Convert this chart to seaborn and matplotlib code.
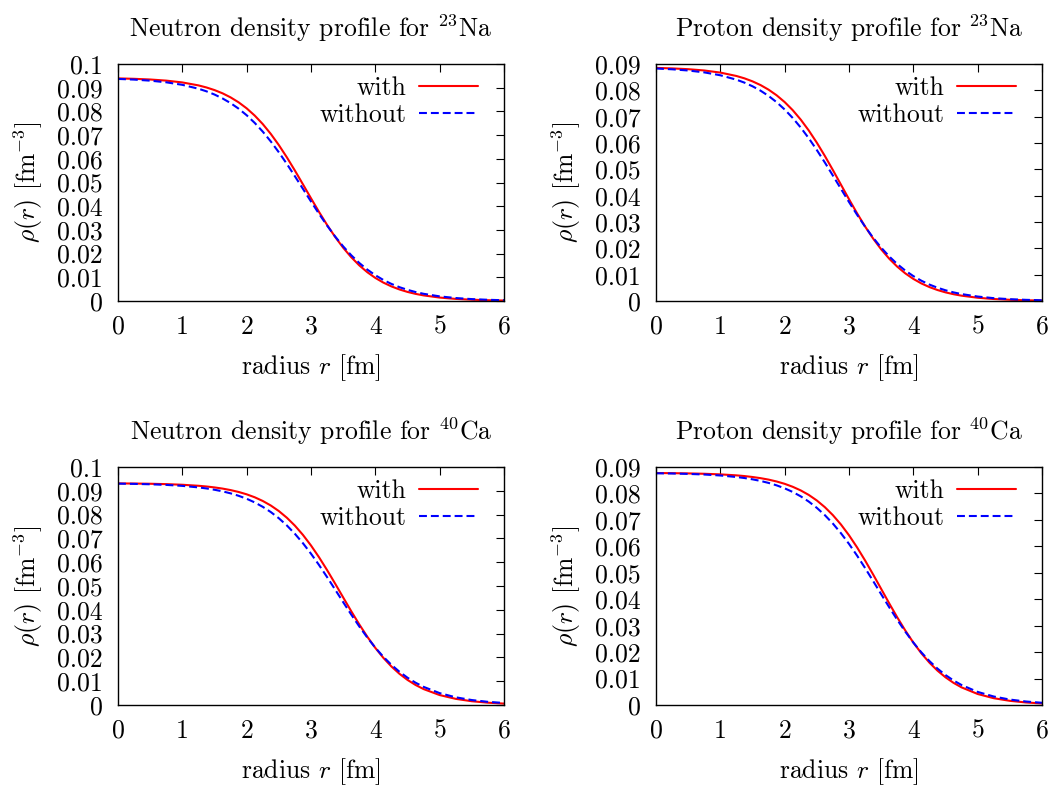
import matplotlib
matplotlib.use("Agg")
import matplotlib.pyplot as plt
import seaborn as sns
import pandas as pd

# ---------------- data ----------------
radius = [0.0, 0.25, 0.5, 0.75, 1.0, 1.25, 1.375, 1.5, 1.625, 1.75, 1.875, 2.0,
          2.125, 2.25, 2.375, 2.5, 2.625, 2.75, 2.875, 3.0, 3.125, 3.25, 3.375, 3.5,
          3.625, 3.75, 3.875, 4.0, 4.125, 4.25, 4.375, 4.5, 4.625, 4.75,
          5.0, 5.25, 5.5, 5.75, 6.0]

na_neutron_with = [0.09393, 0.09375, 0.09346, 0.09299, 0.09222, 0.09098, 0.09010, 0.08900,
                   0.08763, 0.08592, 0.08383, 0.08129, 0.07824, 0.07466, 0.07050, 0.06580,
                   0.06061, 0.05503, 0.04922, 0.04334, 0.03758, 0.03210, 0.02704, 0.02248,
                   0.01849, 0.01505, 0.01215, 0.00974, 0.00776, 0.00616, 0.00487, 0.00383,
                   0.00301, 0.00236, 0.00145, 0.00088, 0.00054, 0.00033, 0.00020]
na_neutron_without = [0.09370, 0.09342, 0.09297, 0.09228, 0.09121, 0.08957, 0.08847, 0.08712,
                      0.08547, 0.08350, 0.08115, 0.07838, 0.07515, 0.07147, 0.06732, 0.06275,
                      0.05783, 0.05263, 0.04731, 0.04198, 0.03678, 0.03183, 0.02723, 0.02305,
                      0.01932, 0.01606, 0.01326, 0.01088, 0.00887, 0.00721, 0.00583, 0.00471,
                      0.00379, 0.00304, 0.00195, 0.00125, 0.00080, 0.00051, 0.00032]

na_proton_with = [0.08852, 0.08833, 0.08803, 0.08754, 0.08674, 0.08545, 0.08455, 0.08341,
                  0.08200, 0.08025, 0.07812, 0.07554, 0.07247, 0.06887, 0.06474, 0.06012,
                  0.05507, 0.04971, 0.04418, 0.03866, 0.03332, 0.02830, 0.02371, 0.01962,
                  0.01607, 0.01304, 0.01049, 0.00839, 0.00667, 0.00529, 0.00417, 0.00328,
                  0.00258, 0.00202, 0.00124, 0.00075, 0.00046, 0.00028, 0.00017]
na_proton_without = [0.08829, 0.08799, 0.08753, 0.08682, 0.08572, 0.08405, 0.08292, 0.08154,
                     0.07987, 0.07787, 0.07550, 0.07272, 0.06951, 0.06586, 0.06179, 0.05733,
                     0.05258, 0.04762, 0.04259, 0.03759, 0.03277, 0.02823, 0.02404, 0.02027,
                     0.01693, 0.01403, 0.01155, 0.00946, 0.00770, 0.00624, 0.00505, 0.00407,
                     0.00327, 0.00263, 0.00169, 0.00108, 0.00069, 0.00044, 0.00028]

ca_neutron_with = [0.09311, 0.09305, 0.09296, 0.09280, 0.09254, 0.09211, 0.09181, 0.09142,
                   0.09093, 0.09030, 0.08951, 0.08852, 0.08728, 0.08573, 0.08382, 0.08149,
                   0.07868, 0.07535, 0.07146, 0.06702, 0.06207, 0.05669, 0.05101, 0.04520,
                   0.03943, 0.03388, 0.02870, 0.02398, 0.01980, 0.01618, 0.01311, 0.01054,
                   0.00842, 0.00669, 0.00417, 0.00258, 0.00158, 0.00097, 0.00059]
ca_neutron_without = [0.09301, 0.09291, 0.09274, 0.09248, 0.09207, 0.09143, 0.09099, 0.09044,
                      0.08977, 0.08893, 0.08790, 0.08665, 0.08512, 0.08327, 0.08107, 0.07847,
                      0.07543, 0.07192, 0.06797, 0.06357, 0.05881, 0.05374, 0.04851, 0.04322,
                      0.03802, 0.03303, 0.02835, 0.02408, 0.02025, 0.01688, 0.01396, 0.01147,
                      0.00937, 0.00762, 0.00499, 0.00323, 0.00208, 0.00133, 0.00085]

ca_proton_with = [0.08772, 0.08767, 0.08758, 0.08744, 0.08721, 0.08684, 0.08657, 0.08622,
                  0.08578, 0.08523, 0.08452, 0.08364, 0.08252, 0.08114, 0.07943, 0.07734,
                  0.07480, 0.07178, 0.06825, 0.06419, 0.05963, 0.05465, 0.04936, 0.04390,
                  0.03844, 0.03315, 0.02817, 0.02361, 0.01955, 0.01602, 0.01300, 0.01047,
                  0.00837, 0.00666, 0.00416, 0.00257, 0.00158, 0.00096, 0.00059]
ca_proton_without = [0.08763, 0.08754, 0.08739, 0.08716, 0.08679, 0.08622, 0.08583, 0.08534,
                     0.08473, 0.08398, 0.08306, 0.08193, 0.08056, 0.07890, 0.07691, 0.07455,
                     0.07178, 0.06859, 0.06496, 0.06092, 0.05651, 0.05180, 0.04689, 0.04190,
                     0.03697, 0.03222, 0.02774, 0.02361, 0.01990, 0.01662, 0.01377, 0.01133,
                     0.00927, 0.00755, 0.00495, 0.00321, 0.00206, 0.00132, 0.00084]

titles = [r"Neutron density profile for $^{23}$Na",
          r"Proton density profile for $^{23}$Na",
          r"Neutron density profile for $^{40}$Ca",
          r"Proton density profile for $^{40}$Ca"]

x_ticks = [0, 1, 2, 3, 4, 5, 6]
x_tick_labels = ["0", "1", "2", "3", "4", "5", "6"]
y_ticks_01 = [0, 0.01, 0.02, 0.03, 0.04, 0.05, 0.06, 0.07, 0.08, 0.09, 0.1]
y_labels_01 = ["0", "0.01", "0.02", "0.03", "0.04", "0.05", "0.06", "0.07", "0.08", "0.09", "0.1"]
y_ticks_009 = [0, 0.01, 0.02, 0.03, 0.04, 0.05, 0.06, 0.07, 0.08, 0.09]
y_labels_009 = ["0", "0.01", "0.02", "0.03", "0.04", "0.05", "0.06", "0.07", "0.08", "0.09"]

series_labels = ["with", "without"]

# ---------------- style ----------------
sns.set_theme(style="white")
plt.rcParams["font.family"] = ["cmr10", "DejaVu Serif"]
plt.rcParams["mathtext.fontset"] = "cm"
plt.rcParams["axes.unicode_minus"] = False
plt.rcParams["axes.edgecolor"] = "black"
plt.rcParams["axes.linewidth"] = 1.0
plt.rcParams["text.color"] = "black"
plt.rcParams["axes.labelcolor"] = "black"

FS = 18.5

fig = plt.figure(figsize=(10.51, 7.87), dpi=100)
W, H = 1051.0, 787.0

# axes boxes in pixels (left, top, right, bottom)
boxes = [(118, 64, 504, 301), (656, 64, 1042, 301),
         (118, 467, 504, 705), (656, 467, 1042, 705)]

panels = [
    (na_neutron_with, na_neutron_without, 0.1, y_ticks_01, y_labels_01),
    (na_proton_with, na_proton_without, 0.09, y_ticks_009, y_labels_009),
    (ca_neutron_with, ca_neutron_without, 0.1, y_ticks_01, y_labels_01),
    (ca_proton_with, ca_proton_without, 0.09, y_ticks_009, y_labels_009),
]

for (l, t, r_, b), (yw, ywo, ymax, yt, ytl), title in zip(boxes, panels, titles):
    ax = fig.add_axes([l / W, 1 - b / H, (r_ - l) / W, (b - t) / H])
    df = pd.DataFrame({"r": radius * 2,
                       "rho": yw + ywo,
                       "case": [series_labels[0]] * len(radius) + [series_labels[1]] * len(radius)})
    sns.lineplot(data=df[df["case"] == "with"], x="r", y="rho", ax=ax,
                 color="#ff0000", linewidth=1.5, label="with")
    sns.lineplot(data=df[df["case"] == "without"], x="r", y="rho", ax=ax,
                 color="#0000ff", linewidth=1.5, linestyle="--", label="without")
    ax.lines[-1].set_dashes([3.8, 1.9])

    ax.set_xlim(0, 6)
    ax.set_ylim(0, ymax)
    ax.set_xticks(x_ticks)
    ax.set_xticklabels(x_tick_labels)
    ax.set_yticks(yt)
    ax.set_yticklabels(ytl)
    ax.tick_params(direction="in", top=True, right=True, length=6, width=0.8,
                   colors="black", labelsize=FS)
    ax.tick_params(axis="y", pad=11)
    ax.tick_params(axis="x", pad=10)
    for s in ax.spines.values():
        s.set_visible(True)
        s.set_color("black")
        s.set_linewidth(1.0)

    hpx = b - t
    wpx = r_ - l
    ax.set_xlabel(r"radius $r$ [fm]", fontsize=FS, va="center")
    ax.xaxis.set_label_coords(0.5, -67.0 / hpx)
    ax.set_ylabel(r"$\rho(r)$ [fm$^{-3}$]", fontsize=FS, va="center")
    ax.yaxis.set_label_coords(-90.0 / wpx, 0.5)
    ax.text(0.5, 1 + 36.0 / hpx, title, transform=ax.transAxes,
            ha="center", va="center", fontsize=FS)

    leg = ax.legend(loc="upper right", bbox_to_anchor=(0.933, 0.948),
                    frameon=False, markerfirst=False, fontsize=FS,
                    handlelength=2.3, handletextpad=0.5, labelspacing=0.12,
                    borderaxespad=0.0, borderpad=0.0)

fig.savefig("out.png", dpi=100)
